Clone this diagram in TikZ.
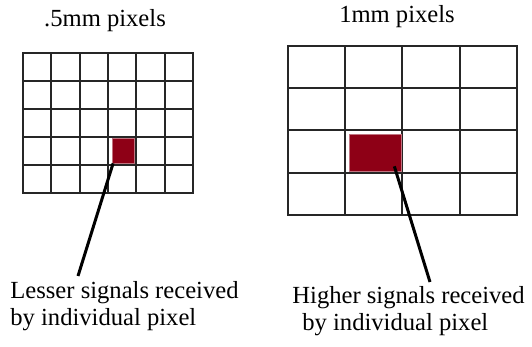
\documentclass[tikz,border=0pt]{standalone}
\usepackage{fontspec}
\setmainfont{Liberation Serif}
\usepackage{xcolor}
\usepackage{tikz}
\usetikzlibrary{positioning}

\definecolor{pixred}{RGB}{142,0,22}
\newcommand{\sigfont}{\fontsize{12.3}{13.3}\selectfont}

\begin{document}
\begin{tikzpicture}[x=0.5pt, y=-0.5pt,
  gridline/.style={line width=1pt, black!85},
  hitcell/.style={fill=pixred, draw=pixred!55!white, line width=0.4pt, inner sep=0pt},
  pointer/.style={line width=1.5pt, black},
  lbl/.style={font=\sigfont, align=left, inner sep=0pt, anchor=north west}]
\useasboundingbox (0,0) rectangle (532,347);
% ---- LEFT: .5mm grid ----
\node[font=\sigfont, anchor=base] (titleL) at (105,27) {.5mm pixels};
\draw[gridline] (23,53) rectangle (193,193);
\foreach \i in {1,...,5}
  \draw[gridline] ({23+\i*170/6},53) -- ({23+\i*170/6},193);
\foreach \j in {1,...,4}
  \draw[gridline] (23,{53+\j*28}) -- (193,{53+\j*28});
\node[hitcell, minimum width=11pt, minimum height=12.25pt] (redL) at (123.5,150.7) {};
\coordinate (tipL) at (78,276);
\draw[pointer] ([xshift=0.5pt]redL.south west) -- (tipL);
\node[lbl] (lblL) at (10,281.5) {Lesser signals received\\by individual pixel};
% ---- RIGHT: 1mm grid ----
\node[font=\sigfont, anchor=base] (titleR) at (397,23) {1mm pixels};
\draw[gridline] (288,46) rectangle (517,215);
\foreach \i in {1,...,3}
  \draw[gridline] ({288+\i*229/4},46) -- ({288+\i*229/4},215);
\foreach \j in {1,...,3}
  \draw[gridline] (288,{46+\j*169/4}) -- (517,{46+\j*169/4});
\node[hitcell, minimum width=26.25pt, minimum height=18.75pt] (redR) at (375.2,152.7) {};
\coordinate (tipR) at (430,282);
\draw[pointer] ([xshift=-3.75pt, yshift=2.75pt]redR.south east) -- (tipR);
\node[lbl] (lblR) at (292,286.5) {Higher signals received\\\hspace*{5pt}by individual pixel};
\end{tikzpicture}
\end{document}
